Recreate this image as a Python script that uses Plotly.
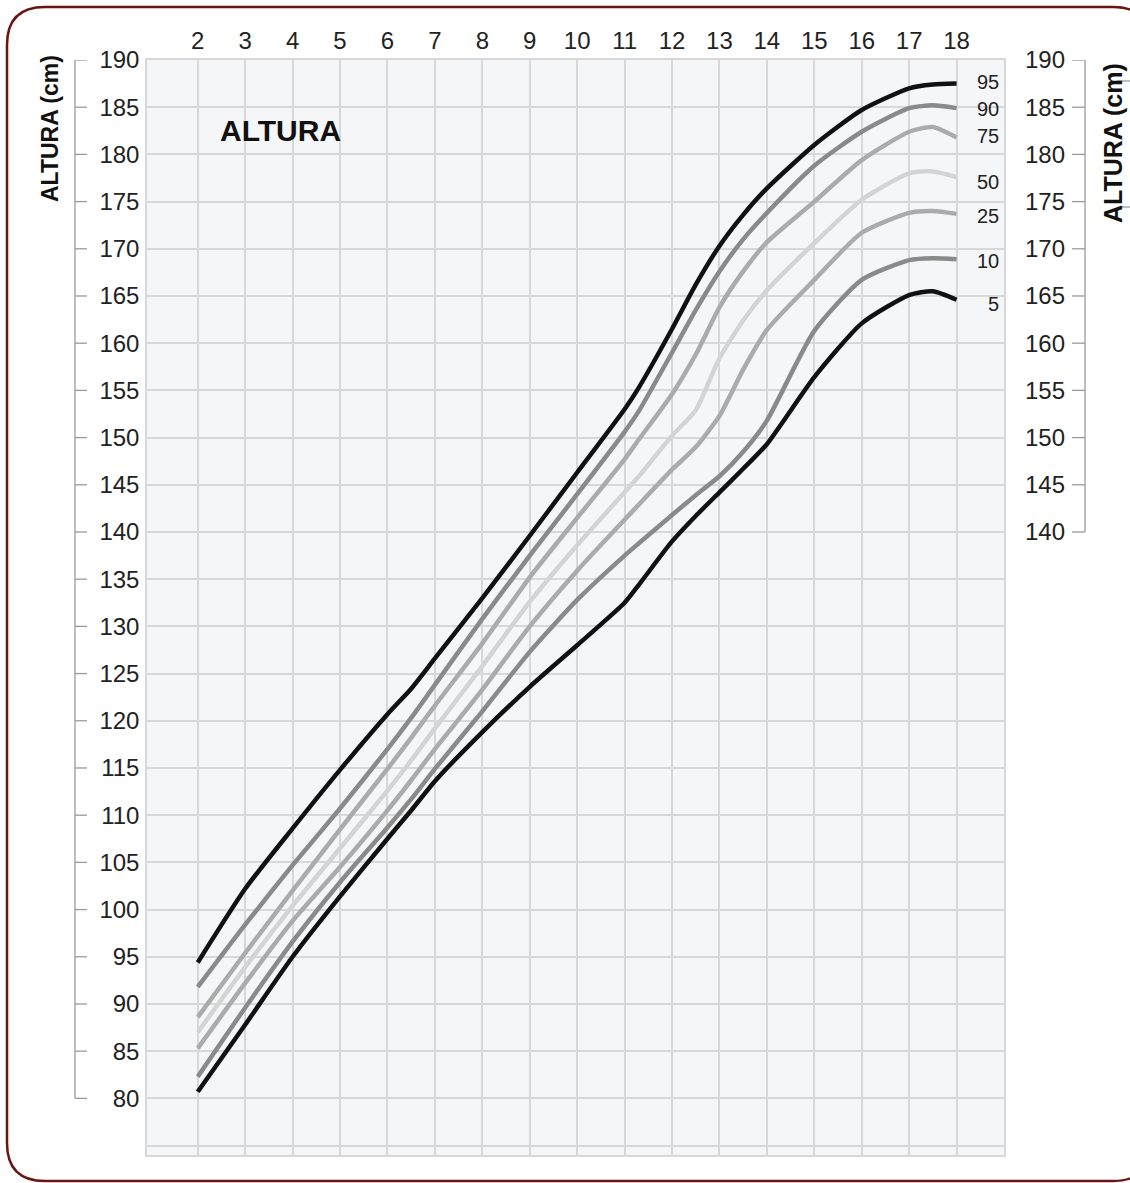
import plotly.graph_objects as go

# ---------------- data ----------------
ages = [2, 3, 4, 5, 6, 6.5, 7, 8, 9, 10, 11, 11.3, 12, 12.5, 13, 13.5, 14, 15, 16, 17, 17.5, 18]

p95 = [94.4, 102.2, 108.6, 114.8, 120.7, 123.4, 126.6, 133.0, 139.6, 146.3, 153.0, 155.3,
       161.5, 166.2, 170.3, 173.6, 176.4, 181.0, 184.7, 187.0, 187.4, 187.5]
p90 = [91.8, 98.4, 104.7, 110.7, 117.0, 120.3, 123.8, 130.8, 137.5, 144.0, 150.6, 152.8,
       159.0, 163.5, 167.6, 171.0, 173.8, 178.8, 182.4, 184.9, 185.2, 184.9]
p75 = [88.6, 95.4, 102.0, 108.5, 114.9, 118.2, 121.6, 128.2, 135.2, 141.5, 147.7, 149.8,
       154.6, 158.8, 163.8, 167.6, 170.7, 175.0, 179.4, 182.4, 182.9, 181.8]
p50 = [87.0, 93.9, 100.4, 106.5, 112.6, 115.8, 119.2, 125.8, 132.6, 138.6, 144.2, 145.9,
       150.2, 152.9, 158.4, 162.4, 165.6, 170.6, 175.2, 178.0, 178.2, 177.6]
p25 = [85.3, 92.2, 98.8, 104.5, 110.5, 113.7, 117.0, 123.3, 130.0, 135.9, 141.3, 142.9,
       146.6, 149.0, 152.3, 157.2, 161.4, 166.7, 171.7, 173.8, 174.0, 173.7]
p10 = [82.3, 89.6, 96.6, 102.9, 108.7, 111.7, 114.9, 121.0, 127.3, 132.8, 137.5, 138.8,
       141.8, 143.9, 145.9, 148.5, 151.8, 161.3, 166.7, 168.8, 169.0, 168.9]
p5 = [80.7, 87.8, 95.0, 101.4, 107.5, 110.5, 113.6, 118.8, 123.6, 128.0, 132.5, 134.4,
      139.0, 141.7, 144.2, 146.7, 149.3, 156.4, 162.1, 165.1, 165.5, 164.6]

percentile_names = ["95", "90", "75", "50", "25", "10", "5"]
series = [p95, p90, p75, p50, p25, p10, p5]

x_ticks = list(range(2, 19))
y_left_ticks = list(range(80, 191, 5))
y_right_ticks = list(range(140, 191, 5))

# ---------------- styling / layout ----------------
W, H = 1130, 1183
L, R, T, B = 147, 126, 60, 28
PW, PH = W - L - R, H - T - B
XR = [0.93, 19.0]
YR = [74, 190]

def px_x(p):  # pixel x -> paper x
    return (p - L) / PW

def px_y(p):  # pixel y -> paper y
    return (H - B - p) / PH

colors = {"95": "#111111", "90": "#8a8a8a", "75": "#ababab", "50": "#d4d4d4",
          "25": "#ababab", "10": "#8a8a8a", "5": "#111111"}
draw_order = ["50", "75", "25", "90", "10", "95", "5"]
# label y positions (data units) beside curve ends
label_y = {"95": 187.7, "90": 184.8, "75": 182.0, "50": 177.1, "25": 173.5, "10": 168.7, "5": 164.1}

FAM = "Liberation Sans, Arial, sans-serif"
TICKFONT = dict(family=FAM, size=24, color="#222222")
GRID = "#d8d8d8"

fig = go.Figure()
for name in draw_order:
    vals = series[percentile_names.index(name)]
    fig.add_trace(go.Scatter(
        x=ages, y=vals, mode="lines", name=name,
        line=dict(color=colors[name], width=4.5, shape="spline", smoothing=0.6),
        hoverinfo="skip", showlegend=False))

# invisible trace so the right axis is drawn
fig.add_trace(go.Scatter(x=[ages[0]], y=[p95[0]], yaxis="y2", mode="markers",
                         marker=dict(opacity=0), hoverinfo="skip", showlegend=False))

shapes = []
# rounded frame
r = 38
x0, x1, y0, y1 = 7, 1151, 7, 1181
path = (f"M {px_x(x0+r)},{px_y(y0)} L {px_x(x1-r)},{px_y(y0)} "
        f"Q {px_x(x1)},{px_y(y0)} {px_x(x1)},{px_y(y0+r)} "
        f"L {px_x(x1)},{px_y(y1-r)} Q {px_x(x1)},{px_y(y1)} {px_x(x1-r)},{px_y(y1)} "
        f"L {px_x(x0+r)},{px_y(y1)} Q {px_x(x0)},{px_y(y1)} {px_x(x0)},{px_y(y1-r)} "
        f"L {px_x(x0)},{px_y(y0+r)} Q {px_x(x0)},{px_y(y0)} {px_x(x0+r)},{px_y(y0)} Z")
shapes.append(dict(type="path", path=path, xref="paper", yref="paper",
                   line=dict(color="#6b1414", width=2.5)))

BR = "#9a9a9a"
# left bracket
shapes.append(dict(type="line", xref="paper", yref="y", x0=px_x(75), x1=px_x(75),
                   y0=y_left_ticks[0], y1=y_left_ticks[-1], line=dict(color=BR, width=1.3)))
for v in y_left_ticks:
    shapes.append(dict(type="line", xref="paper", yref="y", x0=px_x(75), x1=px_x(87),
                       y0=v, y1=v, line=dict(color=BR, width=1.3)))
# right bracket
shapes.append(dict(type="line", xref="paper", yref="y", x0=px_x(1085), x1=px_x(1085),
                   y0=y_right_ticks[0], y1=y_right_ticks[-1], line=dict(color=BR, width=1.3)))
for v in y_right_ticks:
    shapes.append(dict(type="line", xref="paper", yref="y", x0=px_x(1072), x1=px_x(1085),
                       y0=v, y1=v, line=dict(color=BR, width=1.3)))
# small marks near right title
shapes.append(dict(type="line", xref="paper", yref="paper", x0=px_x(1117), x1=px_x(1132),
                   y0=px_y(81), y1=px_y(81), line=dict(color=BR, width=1.3)))
shapes.append(dict(type="line", xref="paper", yref="paper", x0=px_x(1122), x1=px_x(1132),
                   y0=px_y(207), y1=px_y(207), line=dict(color=BR, width=1.3)))

annotations = []
for name in percentile_names:
    annotations.append(dict(x=18.93, y=label_y[name], xref="x", yref="y", text=name,
                            showarrow=False, xanchor="right", yanchor="middle",
                            font=dict(family=FAM, size=20, color="#222222")))
annotations.append(dict(x=3.75, y=182.5, xref="x", yref="y", text="<b>ALTURA</b>",
                        showarrow=False, xanchor="center", yanchor="middle",
                        font=dict(family=FAM, size=30, color="#111111")))
annotations.append(dict(x=px_x(50), y=px_y(129), xref="paper", yref="paper",
                        text="<b>ALTURA (cm)</b>", textangle=-90, showarrow=False,
                        xanchor="center", yanchor="middle",
                        font=dict(family=FAM, size=23, color="#111111")))
annotations.append(dict(x=px_x(1113), y=px_y(143), xref="paper", yref="paper",
                        text="<b>ALTURA (cm)</b>", textangle=-90, showarrow=False,
                        xanchor="center", yanchor="middle",
                        font=dict(family=FAM, size=25, color="#111111")))

fig.update_layout(
    width=W, height=H,
    margin=dict(l=L, r=R, t=T, b=B, pad=0),
    paper_bgcolor="white", plot_bgcolor="#f5f6f7",
    shapes=shapes, annotations=annotations,
    xaxis=dict(range=XR, side="top", tickvals=x_ticks, ticktext=[str(v) for v in x_ticks],
               showgrid=True, gridcolor=GRID, gridwidth=1.5, zeroline=False,
               ticks="", tickfont=TICKFONT, ticklabelstandoff=0,
               showline=True, linecolor=GRID, linewidth=1.5, mirror=True, fixedrange=True),
    yaxis=dict(range=YR, tickvals=[75] + y_left_ticks, ticktext=[""] + [str(v) for v in y_left_ticks],
               showgrid=True, gridcolor=GRID, gridwidth=1.5, zeroline=False,
               ticks="", tickfont=TICKFONT, ticklabelstandoff=1,
               showline=True, linecolor=GRID, linewidth=1.5, mirror=True, fixedrange=True),
    yaxis2=dict(range=YR, overlaying="y", side="right", tickvals=y_right_ticks,
                ticktext=[str(v) for v in y_right_ticks], showgrid=False, zeroline=False,
                ticks="", tickfont=TICKFONT, ticklabelstandoff=20, showline=False, fixedrange=True),
)

fig.write_html("out.html", config={"displayModeBar": False},
               post_script="document.body.style.margin='0';document.body.style.overflow='hidden';")
